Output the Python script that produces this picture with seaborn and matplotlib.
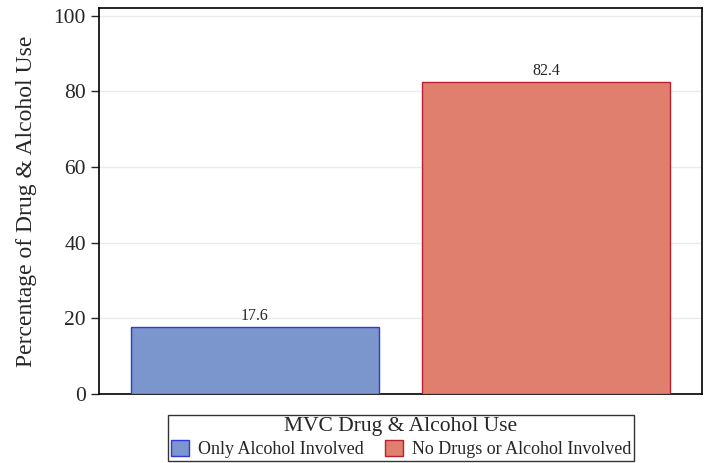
import pandas as pd
import matplotlib.pyplot as plt
import seaborn as sns

# data
categories = ['Only Alcohol Involved', 'No Drugs or Alcohol Involved']
percentages = [17.6, 82.4]
fill_colors = ['#7B96CC', '#E07F6E']
edge_colors = ['#3535E0', '#B82030']
y_ticks = [0, 20, 40, 60, 80, 100]

df = pd.DataFrame({'group': categories, 'pct': percentages})

sns.set_style('white')
plt.rcParams['font.family'] = ['Liberation Serif', 'DejaVu Serif']

fig = plt.figure(figsize=(7.1, 4.63), dpi=100)
ax = fig.add_axes([99 / 710, 1 - 394 / 463, 603 / 710, 386 / 463])

sns.barplot(data=df, x='group', y='pct', hue='group', palette=fill_colors,
            saturation=1, dodge=False, width=0.85, legend=False, ax=ax, zorder=3)
for bar, ec in zip(ax.patches, edge_colors):
    bar.set_edgecolor(ec)
    bar.set_linewidth(1.0)

for i, v in enumerate(percentages):
    ax.text(i, v + 0.8, f'{v:.1f}', ha='center', va='bottom', fontsize=11.5)

ax.set_xlim(-0.535, 1.535)
ax.set_ylim(0, 102)
ax.set_yticks(y_ticks)
ax.set_xticks([])
ax.set_xlabel('')
ax.set_ylabel('Percentage of Drug & Alcohol Use', fontsize=17, labelpad=12)
ax.tick_params(axis='y', labelsize=15.5, left=True, length=6, width=1, direction='out')
ax.yaxis.grid(True, color='#EBEBEB', linewidth=1, zorder=0)
for s in ax.spines.values():
    s.set_color('black')
    s.set_linewidth(1.2)

handles = [plt.Rectangle((0, 0), 1, 1, facecolor=f, edgecolor=e, linewidth=1)
           for f, e in zip(fill_colors, edge_colors)]
leg = fig.legend(handles, categories, title='MVC Drug & Alcohol Use', ncol=2,
                 loc='lower center', bbox_to_anchor=(401 / 710, 2 / 463),
                 fontsize=13, title_fontsize=15.5, frameon=True, fancybox=False,
                 edgecolor='black', handlelength=1.0, handleheight=1.0,
                 handletextpad=0.5, columnspacing=1.2, borderpad=0.15,
                 labelspacing=0.2, borderaxespad=0)
leg.get_frame().set_linewidth(1.0)

fig.savefig('out.png', dpi=100)
